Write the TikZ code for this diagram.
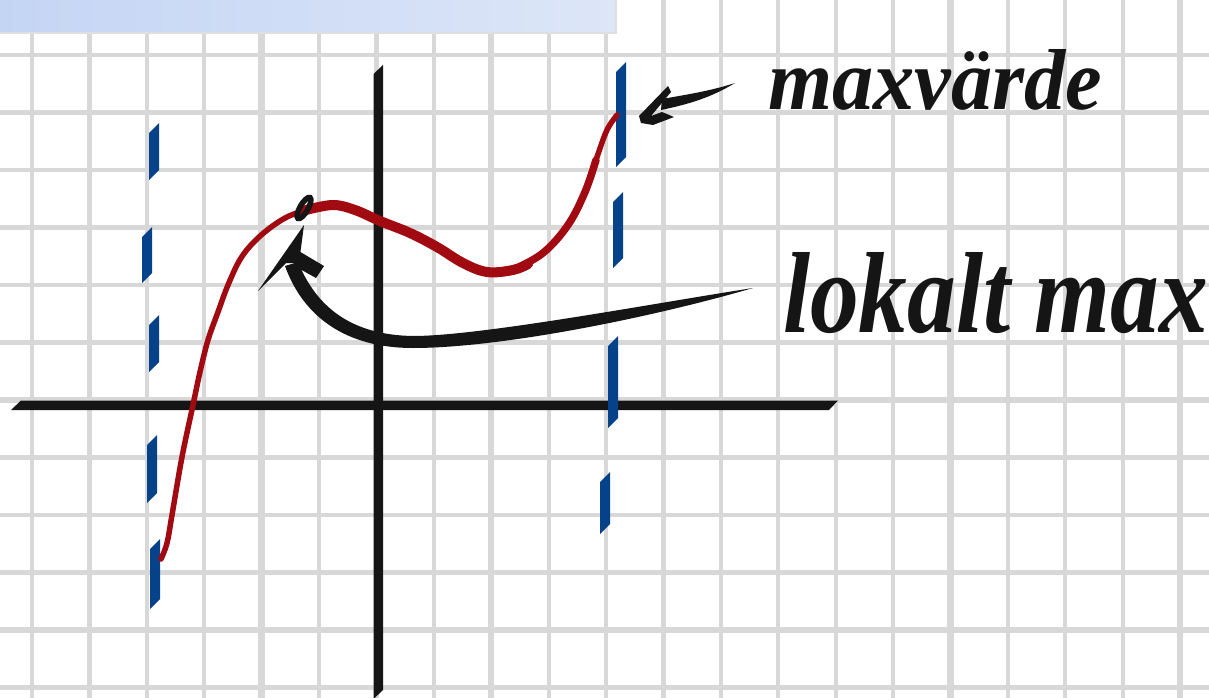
\documentclass[tikz,border=0pt]{standalone}
\usepackage{fontspec}
\setmainfont{Liberation Serif}
\definecolor{gridgray}{HTML}{D8D8D8}
\definecolor{inkblack}{HTML}{151515}
\definecolor{curvered}{HTML}{A00A10}
\definecolor{dashblue}{HTML}{064289}
\definecolor{bandleft}{HTML}{C4D5F4}
\definecolor{bandright}{HTML}{DDE6F8}
\tikzset{
  gridline/.style={draw=gridgray, line width=4.2},
  gridthick/.style={draw=gridgray, line width=6.5},
  ink/.style={fill=inkblack},
  bluedash/.style={fill=dashblue},
  redcurve/.style={draw=curvered, line cap=round, line join=round},
  hand/.style={inner sep=0pt, outer sep=0pt, text=inkblack, font=\bfseries\itshape}
}
\begin{document}
\begin{tikzpicture}[x=1pt,y=-1pt]
\useasboundingbox (0,0) rectangle (1209,698);
\fill[white] (0,0) rectangle (1209,698);
% grid
\foreach \k in {0,...,20} \draw[gridline] ({32+57.4*\k},0) -- ({32+57.4*\k},698);
\foreach \k in {0,...,11} \draw[gridline] (0,{55+57.5*\k}) -- (1209,{55+57.5*\k});
\foreach \k in {4,8,16,20} \draw[gridthick] ({32+57.4*\k},0) -- ({32+57.4*\k},698);
\foreach \k in {6,10} \draw[gridthick] (0,{55+57.5*\k}) -- (1209,{55+57.5*\k});
% top band
\shade[left color=bandleft, right color=bandright] (0,0) rectangle (616,33);
\draw[gray!25, line width=1.2] (0,33) -- (616,33) -- (616,0);
% axes
\fill[ink] (21,400.5) -- (838,400.5) -- (829,410) -- (11,410) -- cycle;
\fill[ink] (373.5,74) -- (383,65) -- (383,690) -- (373.5,699) -- cycle;
% blue dashed lines (parallelograms)
\foreach \xl/\yt/\yb in {149/123/180, 142/227/283, 149/315/372, 147/435/503, 150/539/609,
                          616/62/167, 613/192/268, 608/336/428, 600/472/534}
  \fill[bluedash] (\xl,\yt+10) -- (\xl+10,\yt) -- (\xl+10,\yb-10) -- (\xl,\yb) -- cycle;
% red curve
\draw[redcurve, line width=5.5] plot[smooth, tension=0.6] coordinates {
  (161,559) (167,543) (172,515) (182,457) (193,405) (200,372) (208,340) (218,312)
  (228,285) (241,258) (258,238) (280,221) (300,212) (333,205) (355,210) (380,221)
  (410,233) (437,247) (463,263) (487,272) (513,270) (543,253) (568,225) (585,192)
  (597,157) (607,130) (617,115)};
\draw[redcurve, line width=10] plot[smooth, tension=0.6] coordinates {
  (306,210) (333,205) (355,210) (380,221) (410,233) (437,247) (463,263) (487,272) (513,270) (528,264)};
\draw[redcurve, line width=7.5] plot[smooth, tension=0.6] coordinates {
  (513,270) (543,253) (568,225) (585,192) (596,160)};
% small loop at the local maximum
\coordinate (peak) at (304,208);
\draw[draw=inkblack, line width=5.5, rotate around={-30:(peak)}] (peak) ellipse (4 and 12);
% lokalt max label and arrow
\node[hand, anchor=base west] (lokalt) at (783,332) {\resizebox{425pt}{80pt}{lokalt max}};
\coordinate (ltail) at (753,288);
\coordinate (ltip) at (304,225);
\fill[ink] (ltail) .. controls (650,304) and (480,336) .. (413,336)
   .. controls (350,335) and (316,306) .. (298,262)
   -- (285,266)
   .. controls (303,316) and (345,348) .. (413,348)
   .. controls (500,348) and (650,318) .. (ltail) -- cycle;
\fill[ink] (ltip) -- (258,291) -- (286,263) -- (299,263) -- cycle;
\fill[ink] (297,250) -- (324,266) -- (316,278) -- (298,268) -- cycle;
% maxvarde label and arrow
\node[hand, anchor=base west] (maxv) at (768,110) {\resizebox{334pt}{60pt}{maxvärde}};
\coordinate (mtail) at (735,83);
\coordinate (mtip) at (639,116);
\fill[ink] (mtail) .. controls (710,91) and (690,94) .. (662,99)
   -- (661,110) .. controls (690,104) and (712,97) .. (mtail) -- cycle;
\fill[ink] (668,86) -- (mtip) -- (641,123) -- (653,125) -- (674,117) -- (662,112) -- (651,116) -- (671,92) -- cycle;
\end{tikzpicture}
\end{document}
